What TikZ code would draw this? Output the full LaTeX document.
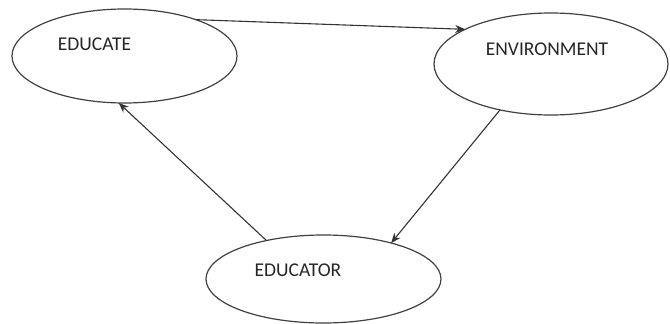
\documentclass[tikz,border=0pt]{standalone}
\usepackage{fontspec}
\setmainfont{Carlito}
\usetikzlibrary{shapes.geometric,arrows.meta}

\tikzset{
  blob/.style={draw=black!75, line width=1.2pt, ellipse, inner sep=0pt, outer sep=0pt},
  word/.style={font=\fontsize{19.5}{22}\selectfont, text=black!85},
  flow/.style={draw=black!80, line width=1.1pt, -{Stealth[length=10pt,width=8pt]}}
}

\begin{document}
\begin{tikzpicture}[x=1pt, y=-1pt]
      %\draw[help lines] (0,0) grid (670,324);
      \useasboundingbox (0,0) rectangle (670,324);

      \node[blob, minimum width=225pt, minimum height=94pt]  (educate) at (124.5, 56) {};
      \node[blob, minimum width=234pt, minimum height=102pt] (environment) at (551, 64) {};
      \node[blob, minimum width=235pt, minimum height=88pt]  (educator) at (323.5, 279) {};

      \node[word] (educatetxt) at (94.5, 44) {EDUCATE};
      \node[word] (environmenttxt) at (547, 49) {ENVIRONMENT};
      \node[word] (educatortxt) at (298, 270) {EDUCATOR};

      \draw[flow] (educate.27.7) -- (environment.158.9);
      \draw[flow] (environment.222) -- (educator.28.4);
      \draw[flow] (educator.146.8) -- (educate.-97);
    \end{tikzpicture}
\end{document}
